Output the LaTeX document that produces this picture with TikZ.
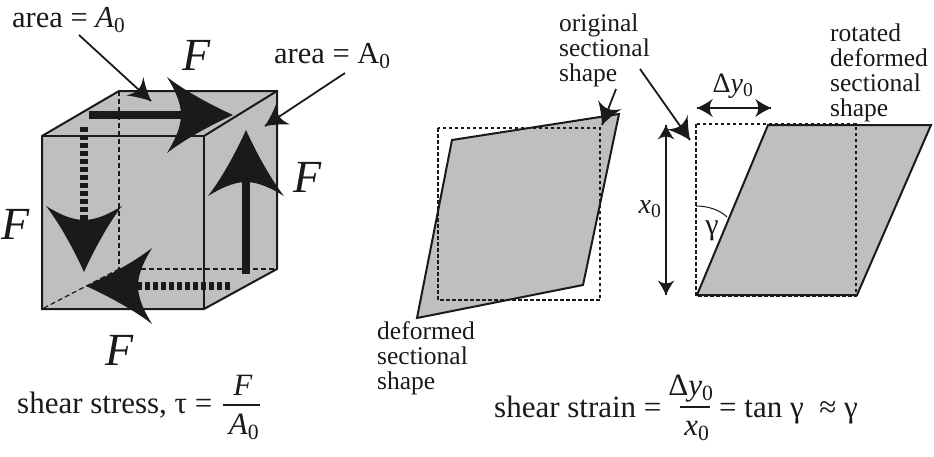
\documentclass[tikz,border=0pt]{standalone}
\usepackage{fontspec}
\setmainfont{Liberation Serif}
\definecolor{shapegray}{HTML}{BEC0BF}
\definecolor{inkblack}{HTML}{1A1A1A}
\tikzset{
  txt/.style={inner sep=0pt,text=inkblack,font=\fontsize{25.5}{25}\selectfont},
  eqn/.style={inner sep=0pt,text=inkblack,anchor=base,font=\fontsize{31}{31}\selectfont},
  bigf/.style={inner sep=0pt,text=inkblack,font=\fontsize{46}{46}\selectfont\itshape},
  edge/.style={draw=inkblack,line width=2pt},
  hidden/.style={draw=inkblack,line width=1.2pt,dash pattern=on 5pt off 3pt},
  square/.style={draw=inkblack,line width=2pt,dash pattern=on 3.5pt off 2.5pt},
  shaft/.style={draw=inkblack,line width=7.5pt},
  dotshaft/.style={draw=inkblack,line width=7.5pt,dash pattern=on 5pt off 3pt},
  pointer/.style={draw=inkblack,line width=1.8pt},
  barbhead/.pic={\fill[inkblack] (0,0) .. controls (-22,10) and (-48,24) .. (-66,38)
    .. controls (-60,28) and (-52,14) .. (-52,0)
    .. controls (-52,-14) and (-60,-28) .. (-66,-38)
    .. controls (-48,-24) and (-22,-10) .. cycle;}
}
\begin{document}
\begin{tikzpicture}[x=1pt,y=1pt]
\useasboundingbox (0,0) rectangle (934,-456);
% cube
\coordinate (ftl) at (42,-136);
\coordinate (ftr) at (204,-136);
\coordinate (fbr) at (204,-309);
\coordinate (fbl) at (42,-309);
\coordinate (btl) at (119,-91);
\coordinate (btr) at (277,-91);
\coordinate (bbr) at (277,-269);
\coordinate (bbl) at (119,-269);
\fill [shapegray] (ftl) -- (btl) -- (btr) -- (bbr) -- (fbr) -- (fbl) -- cycle;
\draw [edge] (ftl) -- (btl) -- (btr) -- (bbr) -- (fbr) -- (fbl) -- cycle;
\draw [edge] (ftl) -- (ftr) -- (fbr);
\draw [edge] (ftr) -- (btr);
\draw [hidden] (btl) -- (bbl) -- (bbr);
\draw [hidden] (bbl) -- (fbl);
% forces on the cube
\coordinate (topstart) at (89,-115);
\coordinate (topend) at (190,-115);
\coordinate (toptip) at (233,-115);
\draw [shaft] (topstart) -- (topend);
\pic at (toptip) {barbhead};
\coordinate (rightstart) at (246,-274);
\coordinate (rightend) at (246,-178);
\coordinate (righttip) at (246,-130);
\draw [shaft] (rightstart) -- (rightend);
\pic [rotate=90] at (righttip) {barbhead};
\coordinate (leftstart) at (84,-127);
\coordinate (leftend) at (84,-222);
\coordinate (lefttip) at (84,-272);
\draw [dotshaft] (leftstart) -- (leftend);
\pic [rotate=-90] at (lefttip) {barbhead};
\coordinate (botstart) at (230,-286);
\coordinate (botend) at (130,-286);
\coordinate (bottip) at (86,-286);
\draw [dotshaft] (botstart) -- (botend);
\pic [rotate=180] at (bottip) {barbhead};
\node [bigf] (ftop) at (197,-55) {F};
\node [bigf] (fright) at (308,-177) {F};
\node [bigf] (fleft) at (16,-224) {F};
\node [bigf] (fbot) at (120,-350) {F};
% area labels
\node [eqn,anchor=base west,font=\fontsize{30.5}{30}\selectfont] (areatop) at (12,-27) {area = \textit{A}\textsubscript{0}};
\node [eqn,anchor=base west,font=\fontsize{30.5}{30}\selectfont] (arearight) at (274,-63) {area = A\textsubscript{0}};
\coordinate (areatopfrom) at (79,-35);
\coordinate (areatoptip) at (151,-101);
\draw [pointer] (areatopfrom) -- (areatoptip);
\pic [rotate=-42.5,scale=.33] at (areatoptip) {barbhead};
\coordinate (arearightfrom) at (345,-73);
\coordinate (arearighttip) at (265,-126);
\draw [pointer] (arearightfrom) -- (arearighttip);
\pic [rotate=-146.5,scale=.33] at (arearighttip) {barbhead};
% left section
\coordinate (dtl) at (452,-140);
\coordinate (dtr) at (619,-114);
\coordinate (dbr) at (583,-285);
\coordinate (dbl) at (417,-318);
\fill [shapegray] (dtl) -- (dtr) -- (dbr) -- (dbl) -- cycle;
\draw [edge] (dtl) -- (dtr) -- (dbr) -- (dbl) -- cycle;
\draw [square] (438,-128) rectangle (600,-300);
\node [txt,anchor=north west,align=left] (origlabel) at (559,-14) {original\\sectional\\shape};
\node [txt,anchor=north west,align=left] (deflabel) at (377,-321) {deformed\\sectional\\shape};
\coordinate (origfrom) at (616,-89);
\coordinate (origtip) at (602,-125);
\draw [pointer] (origfrom) -- (origtip);
\pic [rotate=-111,scale=.33] at (origtip) {barbhead};
\coordinate (origfromb) at (640,-69);
\coordinate (origtipb) at (690,-140);
\draw [pointer] (origfromb) -- (origtipb);
\pic [rotate=-55,scale=.33] at (origtipb) {barbhead};
% right section
\coordinate (rtl) at (768,-125);
\coordinate (rtr) at (931,-125);
\coordinate (rbr) at (857,-295);
\coordinate (rbl) at (697,-295);
\fill [shapegray] (rtl) -- (rtr) -- (rbr) -- (rbl) -- cycle;
\draw [edge] (rtl) -- (rtr) -- (rbr) -- (rbl) -- cycle;
\draw [square] (696,-124) rectangle (856,-296);
\node [txt,anchor=north west,align=left] (rotlabel) at (830,-24) {rotated\\deformed\\sectional\\shape};
\coordinate (xtop) at (666,-125);
\coordinate (xbot) at (666,-295);
\draw [pointer] (xtop) -- (xbot);
\pic [rotate=90,scale=.22] at (xtop) {barbhead};
\pic [rotate=-90,scale=.22] at (xbot) {barbhead};
\node [txt,font=\fontsize{28}{28}\selectfont] (xlabel) at (650,-209) {\textit{x}\textsubscript{0}};
\coordinate (dyleft) at (697,-108);
\coordinate (dyright) at (771,-108);
\draw [pointer] (dyleft) -- (dyright);
\pic [rotate=180,scale=.24] at (dyleft) {barbhead};
\pic [scale=.24] at (dyright) {barbhead};
\node [txt,font=\fontsize{28}{28}\selectfont] (dylabel) at (733,-86) {Δ\textit{y}\textsubscript{0}};
\coordinate (gammafrom) at (696,-206);
\coordinate (gammato) at (727,-217);
\draw [line width=1pt,inkblack] (gammafrom) .. controls (708,-206) and (720,-210) .. (gammato);
\node [txt,font=\fontsize{30}{30}\selectfont] (gammalabel) at (712,-231) {γ};
% formulas
\node [eqn,anchor=base west] (stresslabel) at (17,-413) {shear stress, τ =};
\coordinate (stressa) at (223,-405);
\coordinate (stressb) at (260,-405);
\draw [pointer] (stressa) -- (stressb);
\node [eqn] (stressnum) at (243,-395) {\textit{F}};
\node [eqn] (stressden) at (244,-434) {\textit{A}\textsubscript{0}};
\node [eqn,anchor=base west] (strainlabel) at (494,-417) {shear strain =};
\coordinate (straina) at (680,-407);
\coordinate (strainb) at (710,-407);
\draw [pointer] (straina) -- (strainb);
\node [eqn] (strainnum) at (691,-395) {Δ\textit{y}\textsubscript{0}};
\node [eqn] (strainden) at (697,-435) {\textit{x}\textsubscript{0}};
\node [eqn,anchor=base west] (strainrest) at (719,-417) {= tan γ\ \ ≈ γ};
\end{tikzpicture}
\end{document}
